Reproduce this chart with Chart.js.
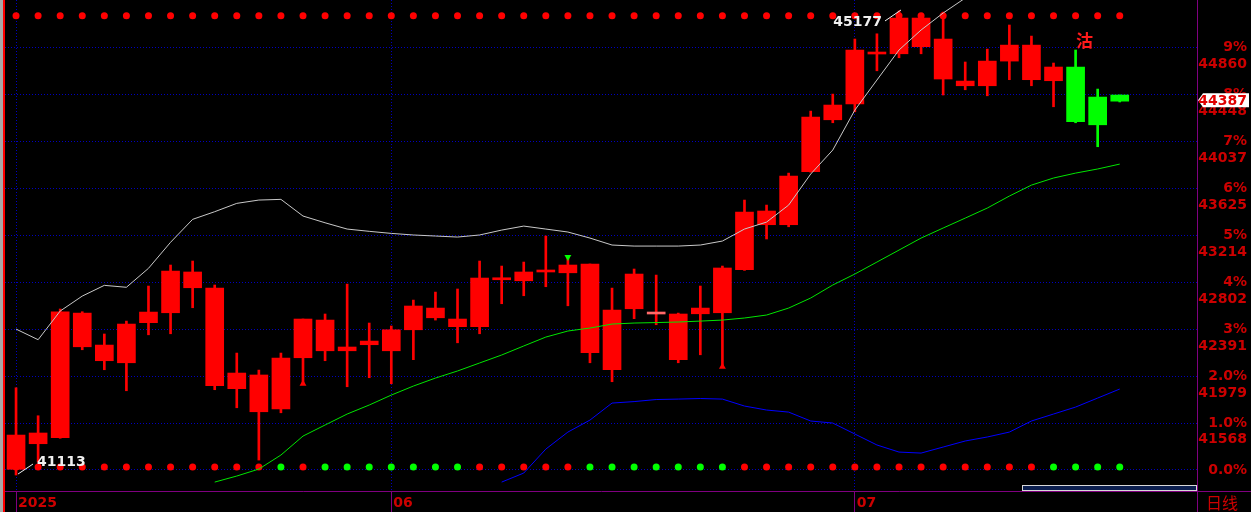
<!DOCTYPE html>
<html>
<head>
<meta charset="utf-8">
<script src="https://cdn.jsdelivr.net/npm/chart.js@4.4.1/dist/chart.umd.min.js"></script>
<style>
  html, body { margin: 0; padding: 0; background: #000; overflow: hidden; }
  #kline { display: block; background: #000; }
</style>
</head>
<body>
<canvas id="kline" width="1251" height="512"></canvas>
<script>
// daily bars, left to right
const opens  = [41163, 41481, 41440, 42531, 42251, 42096, 42447, 42534, 42891, 42750,
                41869, 41989, 41691, 42140, 42470, 42201, 42254, 42201, 42385, 42575,
                42479, 42412, 42838, 42814, 42891, 42884, 42961, 42558, 42569, 42527,
                42523, 42525, 42534, 42911, 43425, 43305, 43769, 44224, 44364, 44817,
                44802, 45115, 44931, 44563, 44522, 44738, 44878, 44566, 44686, 44423, 44441];
const highs  = [41877, 41632, 42567, 42543, 42348, 42461, 42768, 42952, 42987, 42777,
                42181, 42032, 42181, 42479, 42523, 42785, 42444, 42418, 42645, 42715,
                42742, 42987, 42943, 42978, 43206, 43022, 42961, 42750, 42917, 42864,
                42531, 42768, 42943, 43521, 43477, 43757, 44300, 44449, 44931, 44977,
                45177, 45150, 45167, 44730, 44843, 45054, 44957, 44721, 44835, 44493, 44441];
const lows   = [41113, 41227, 41435, 42210, 42035, 41851, 42341, 42350, 42578, 41860,
                41702, 41244, 41658, 41912, 42114, 41886, 41965, 41912, 42123, 42470,
                42271, 42350, 42613, 42683, 42762, 42595, 42096, 41930, 42482, 42429,
                42096, 42166, 42061, 42905, 43180, 43287, 43765, 44198, 44294, 44653,
                44767, 44802, 44441, 44487, 44434, 44575, 44522, 44338, 44198, 43988, 44380];
const closes = [41463, 41387, 42543, 42236, 42114, 42435, 42540, 42899, 42753, 41895,
                42006, 41667, 42137, 42479, 42201, 42234, 42286, 42385, 42593, 42490,
                42412, 42838, 42823, 42891, 42908, 42952, 42184, 42035, 42873, 42523,
                42123, 42575, 42926, 43416, 43305, 43731, 44248, 44353, 44835, 44800,
                45115, 44864, 44581, 44522, 44738, 44878, 44575, 44686, 44207, 44180, 44387];
// bar colour as shown: R red, P pale red doji, G green
const barTone = 'RRRRRRRRRRRRRRRRRRRRRRRRRRRRRPRRRRRRRRRRRRRRRRRRGGG';

// indicator lines (null = not drawn / off screen)
const upperLine = [42391, 42298, 42549, 42680, 42774, 42757, 42923, 43151, 43352, 43419,
                   43492, 43521, 43527, 43381, 43322, 43267, 43247, 43229, 43215, 43206,
                   43197, 43215, 43258, 43293, 43267, 43241, 43188, 43127, 43118, 43118,
                   43118, 43127, 43162, 43267, 43328, 43477, 43749, 43959, 44309, 44572,
                   44835, 45010, 45159, 45290, null, null, null, null, null, null, null];
const midLine   = [null, null, null, null, null, null, null, null, null, 41051,
                   41104, 41165, 41288, 41454, 41551, 41647, 41726, 41813, 41892, 41962,
                   42024, 42094, 42164, 42243, 42321, 42374, 42400, 42435, 42444, 42448,
                   42453, 42461, 42470, 42488, 42514, 42575, 42663, 42777, 42873, 42978,
                   43083, 43188, 43276, 43363, 43451, 43556, 43652, 43714, 43757, 43793, 43836];
const lowerLine = [null, null, null, null, null, null, null, null, null, null,
                   null, null, null, null, null, null, null, null, null, null,
                   null, null, 41051, 41130, 41340, 41489, 41594, 41743, 41756, 41774,
                   41778, 41783, 41778, 41717, 41682, 41664, 41586, 41568, 41472, 41376,
                   41314, 41305, 41358, 41411, 41446, 41489, 41586, 41647, 41708, 41787, 41866];

// signal dot rows
const topDotLevel = 45135;
const bottomDotLevel = 41183;
const topSignal    = 'RRRRRRRRRRRRRRRRRRRRRRRRRRRRRRRRRRRRRRRRRRRRRRRRRRR';
const bottomSignal = 'RRRRRRRRRRRRGRGGGGGGGRRRRRGGGGGGGRRRRRRRRRRRRRRGGGG';
const buyBars = [13, 32];
const sellBars = [25];
const noteBar = 48;
const noteText = '沽';

// axes
const slotCount = 54;
const monthBars = [0, 17, 38];
const monthNames = ['2025', '06', '07'];
const gridPrices = [41157, 41568, 41979, 42391, 42802, 43214, 43625, 44037, 44448, 44860];
const pctLabels = ['0.0%', '1.0%', '2.0%', '3%', '4%', '5%', '6%', '7%', '8%', '9%'];
const yMin = 40973, yMax = 45273;

const tones = {R: '#ff0000', P: '#ff6a6a', G: '#00ff00'};
const bodyColors = barTone.split('').map(c => tones[c]);
const wickColors = barTone.split('').map(c => c === 'G' ? tones.G : tones.R);
const categories = [];
for (let i = 0; i < slotCount; i++) categories.push(i < opens.length ? String(i + 1) : '');

const overlay = {
  id: 'overlay',
  beforeDraw(chart) {
    const ctx = chart.ctx;
    ctx.save();
    ctx.fillStyle = '#000';
    ctx.fillRect(0, 0, chart.width, chart.height);
    ctx.restore();
  },
  afterDraw(chart) {
    const {ctx, chartArea, scales: {x, y}} = chart;
    ctx.save();
    // left frame
    ctx.fillStyle = '#a8a8a8';
    ctx.fillRect(0, 0, 3, chart.height);
    ctx.fillStyle = '#ff0000';
    ctx.fillRect(3, 0, 2, chart.height);

    // axis lines carried into the corner
    ctx.strokeStyle = '#800080';
    ctx.lineWidth = 1;
    ctx.beginPath();
    ctx.moveTo(chartArea.right, chartArea.bottom + 0.5); ctx.lineTo(chart.width, chartArea.bottom + 0.5);
    ctx.moveTo(chartArea.right + 0.5, chartArea.bottom); ctx.lineTo(chartArea.right + 0.5, chart.height);
    ctx.stroke();

    // highest / lowest tags
    ctx.font = 'bold 14px "DejaVu Sans"';
    ctx.fillStyle = '#f0f0f0';
    ctx.strokeStyle = '#f0f0f0';
    ctx.textBaseline = 'middle';
    const hi = highs.indexOf(Math.max(...highs));
    const hx = x.getPixelForValue(hi), hy = y.getPixelForValue(highs[hi]);
    ctx.beginPath(); ctx.moveTo(hx - 14, hy + 10); ctx.lineTo(hx + 2, hy - 1); ctx.stroke();
    ctx.textAlign = 'right';
    ctx.fillText(String(highs[hi]), hx - 17, hy + 11);
    const lo = lows.indexOf(Math.min(...lows));
    const lx = x.getPixelForValue(lo), ly = y.getPixelForValue(lows[lo]);
    ctx.beginPath(); ctx.moveTo(lx + 2, ly - 1); ctx.lineTo(lx + 17, ly - 11); ctx.stroke();
    ctx.textAlign = 'left';
    ctx.fillText(String(lows[lo]), lx + 21, ly - 13);

    // note above bar
    const nx = x.getPixelForValue(noteBar), ny = y.getPixelForValue(highs[noteBar]);
    ctx.font = 'bold 17px "Noto Sans CJK SC"';
    ctx.fillStyle = '#ff1a1a';
    ctx.textAlign = 'center';
    ctx.fillText(noteText, nx + 9, ny - 9);

    // last price tag
    const last = closes[closes.length - 1];
    const py = y.getPixelForValue(last) - 1;
    const tx = chartArea.right + 1;
    ctx.fillStyle = '#ffffff';
    ctx.beginPath();
    ctx.moveTo(tx, py); ctx.lineTo(tx + 5, py - 7); ctx.lineTo(1249, py - 7);
    ctx.lineTo(1249, py + 7); ctx.lineTo(tx + 5, py + 7); ctx.closePath(); ctx.fill();
    ctx.fillStyle = '#e00000';
    ctx.font = 'bold 14px "DejaVu Sans"';
    ctx.textAlign = 'right';
    ctx.fillText(String(last), 1247, py + 1);

    // scroll box and period name
    ctx.fillStyle = '#0c1f4f';
    ctx.fillRect(1022, 485, 175, 6);
    ctx.strokeStyle = '#d8d8d8';
    ctx.strokeRect(1022.5, 485.5, 174, 5);
    ctx.fillStyle = '#cc0000';
    ctx.font = '16px "Noto Sans CJK SC"';
    ctx.textAlign = 'center';
    ctx.fillText('日线', 1222, 503);
    ctx.restore();
  }
};

const markerData = (bars, src) => src.map((v, i) => bars.includes(i) ? v : null);

new Chart(document.getElementById('kline'), {
  type: 'bar',
  data: {
    labels: categories,
    datasets: [
      { type: 'line', data: upperLine, borderColor: '#c8c8c8', borderWidth: 1, pointRadius: 0, order: 0 },
      { type: 'line', data: midLine, borderColor: '#00e600', borderWidth: 1, pointRadius: 0, order: 0 },
      { type: 'line', data: lowerLine, borderColor: '#0000ff', borderWidth: 1, pointRadius: 0, order: 0 },
      { type: 'line', data: markerData(buyBars, lows), showLine: false, pointStyle: 'triangle',
        pointRadius: 4, pointBackgroundColor: '#ff0000', pointBorderWidth: 0, order: 1 },
      { type: 'line', data: markerData(sellBars, highs), showLine: false, pointStyle: 'triangle',
        pointRotation: 180, pointRadius: 4, pointBackgroundColor: '#00ff00', pointBorderWidth: 0, order: 1 },
      { type: 'bar', data: opens.map((o, i) => [o, closes[i]]), backgroundColor: bodyColors,
        barThickness: 18, minBarLength: 2, grouped: false, borderWidth: 0, order: 2 },
      { type: 'bar', data: lows.map((l, i) => [l, highs[i]]), backgroundColor: wickColors,
        barThickness: 2, grouped: false, borderWidth: 0, order: 3 },
      { type: 'line', data: topSignal.split('').map(() => topDotLevel), showLine: false,
        pointRadius: 3.5, pointBorderWidth: 0,
        pointBackgroundColor: topSignal.split('').map(c => tones[c]), order: 4 },
      { type: 'line', data: bottomSignal.split('').map(() => bottomDotLevel), showLine: false,
        pointRadius: 3.5, pointBorderWidth: 0,
        pointBackgroundColor: bottomSignal.split('').map(c => tones[c]), order: 4 }
    ]
  },
  options: {
    responsive: false,
    devicePixelRatio: 1,
    animation: false,
    layout: { autoPadding: false, padding: { left: 5, right: 4, top: 0, bottom: 0 } },
    plugins: { legend: { display: false }, tooltip: { enabled: false } },
    scales: {
      x: {
        afterFit: s => { s.height = 21; s.paddingLeft = 0; s.paddingRight = 0; },
        grid: {
          offset: false,
          color: c => monthBars.includes(c.index) ? '#0000c0' : 'transparent',
          tickColor: c => monthBars.includes(c.index) ? '#800080' : 'transparent',
          drawTicks: true,
          tickLength: 21
        },
        border: { display: true, color: '#800080', width: 1, dash: [1, 2] },
        ticks: {
          autoSkip: false, maxRotation: 0, minRotation: 0,
          align: 'start', labelOffset: 2, padding: -17,
          color: '#cc0000',
          font: { family: 'DejaVu Sans', weight: 'bold', size: 14 },
          callback: (v, i) => { const k = monthBars.indexOf(i); return k >= 0 ? monthNames[k] : ''; }
        }
      },
      y: {
        position: 'right',
        min: yMin, max: yMax,
        afterBuildTicks: s => { s.ticks = gridPrices.map(v => ({ value: v })); },
        afterFit: s => { s.width = 50; s.paddingTop = 0; s.paddingBottom = 0; },
        grid: { color: '#0000c0', lineWidth: 1, drawTicks: false },
        border: { display: true, color: '#800080', width: 1, dash: [1, 2] },
        ticks: {
          autoSkip: false, crossAlign: 'far', padding: 0,
          color: '#cc0000',
          font: { family: 'DejaVu Sans', weight: 'bold', size: 14, lineHeight: 1.2 },
          callback: (v, i) => ['', pctLabels[i], i === 0 ? '' : String(gridPrices[i])]
        }
      }
    }
  },
  plugins: [overlay]
});
</script>
</body>
</html>
